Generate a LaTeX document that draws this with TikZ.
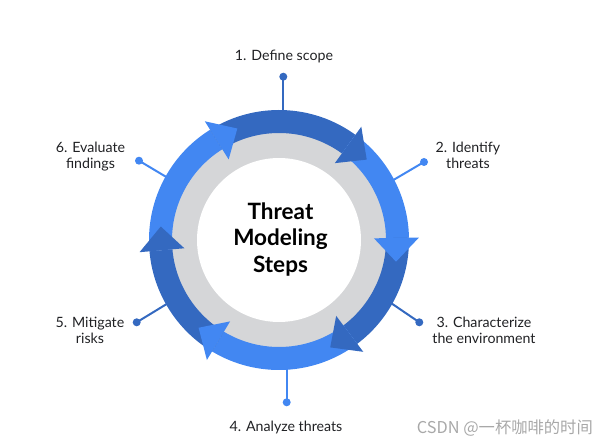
\documentclass[tikz,border=0pt]{standalone}
\usepackage{fontspec}
\setmainfont{Lato}
\newfontfamily\cjkfont{Noto Sans CJK SC}
\definecolor{dkblue}{HTML}{3469C0}
\definecolor{ltblue}{HTML}{4287F2}
\definecolor{ringgray}{HTML}{D5D6D8}
\definecolor{wmgray}{HTML}{A8A8A8}
\definecolor{txt}{HTML}{202124}
\begin{document}
\begin{tikzpicture}[x=1pt,y=1pt,
  steplabel/.style={font=\fontsize{14.2}{16}\selectfont, text=txt, align=center, anchor=base, inner sep=0pt},
  spokedot/.style={circle, inner sep=0pt, minimum size=8pt},
  spoke/.style={line width=2pt}]
\useasboundingbox (0,0) rectangle (608,447);
\coordinate (C) at (279,207);

% spokes
\node[spokedot, fill=dkblue] (d1) at (283.3,370.3) {};
\coordinate (r1) at (283.3,327);
\draw[spoke, dkblue] (d1.center) -- (r1);
\node[spokedot, fill=ltblue] (d2) at (424,285) {};
\coordinate (r2) at (390,265);
\draw[spoke, ltblue] (d2.center) -- (r2);
\node[spokedot, fill=dkblue] (d3) at (419.3,124.7) {};
\coordinate (r3) at (388,146);
\draw[spoke, dkblue] (d3.center) -- (r3);
\node[spokedot, fill=ltblue] (d4) at (286.7,44.7) {};
\coordinate (r4) at (286.7,87);
\draw[spoke, ltblue] (d4.center) -- (r4);
\node[spokedot, fill=dkblue] (d5) at (136.7,124.7) {};
\coordinate (r5) at (170,145);
\draw[spoke, dkblue] (d5.center) -- (r5);
\node[spokedot, fill=ltblue] (d6) at (139,286.3) {};
\coordinate (r6) at (168,269);
\draw[spoke, ltblue] (d6.center) -- (r6);

% ring
\begin{scope}[shift={(C)}]
  \fill[ringgray] (0,0) circle (108);
  \fill[white] (0,0) circle (82);
  \foreach \s/\e/\col in {185/122/ltblue, 122/54/dkblue, 54/1/ltblue, 1/-53/dkblue, -53/-121/ltblue, -121/-175/dkblue}{
    \fill[\col] (\s:130) arc[start angle=\s, end angle=\e, radius=130]
      -- (\e:107) arc[start angle=\e, end angle=\s, radius=107] -- cycle;
  }
  \foreach \e/\col in {122/ltblue, 54/dkblue, 1/ltblue, -53/dkblue, -121/ltblue, -175/dkblue}{
    \fill[\col] (\e:140) -- ({\e-11.5}:119) -- (\e:95) -- cycle;
  }
\end{scope}

% title (anchor = baseline of last line)
\node[font=\bfseries\fontsize{22.5}{26.7}\selectfont, text=black, align=center, anchor=base, inner sep=0pt] (title) at (280.5,174.3) {Threat\\Modeling\\Steps};

% labels (anchor = baseline of last line)
\node[steplabel] (l1) at (284,386.3) {1. Define scope};
\node[steplabel] (l2) at (468,278.5) {2. Identify\\threats};
\node[steplabel] (l3) at (484,103.5) {3. Characterize\\the environment};
\node[steplabel] (l4) at (286,15) {4. Analyze threats};
\node[steplabel] (l5) at (90,103.5) {5. Mitigate\\risks};
\node[steplabel] (l6) at (90.5,278.5) {6. Evaluate\\findings};

% watermark
\node[font=\cjkfont\fontsize{16.3}{19}\selectfont, text=wmgray, anchor=base east, inner sep=0pt] (wm) at (593,13.5) {CSDN @一杯咖啡的时间};
\end{tikzpicture}
\end{document}
